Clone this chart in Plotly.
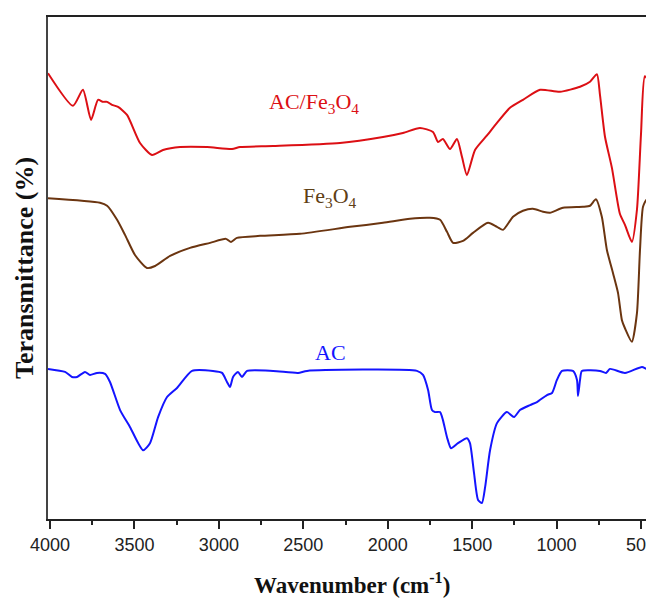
import plotly.graph_objects as go

# Wavenumber (cm-1) and transmittance (arbitrary %, offset spectra)
ac_fe3o4_wn = [4012, 3864, 3805, 3757, 3716, 3686, 3662, 3633, 3597, 3544, 3467, 3396, 3331, 3230,
               3070, 2922, 2875, 2679, 2283, 2028, 1910, 1809, 1732, 1702, 1673, 1631, 1590, 1560,
               1531, 1483, 1412, 1353, 1276, 1199, 1098, 980, 861, 802, 761, 743, 713, 672, 625,
               595, 554, 524, 500, 477, 447, 423]
ac_fe3o4_t = [88.8, 82.3, 85.5, 79.5, 83.5, 83.1, 83.1, 82.5, 82.1, 80.5, 74.9, 72.5, 73.5, 74.1,
              74.1, 73.7, 74.1, 74.3, 74.9, 76.1, 76.9, 77.9, 77.1, 75.1, 75.7, 73.7, 75.7, 72.1,
              68.5, 73.5, 76.4, 78.9, 81.9, 83.5, 85.5, 85.1, 86.1, 87.1, 88.6, 84.5, 76.1, 69.9, 60.8,
              58.6, 55.2, 61.6, 76.7, 88.2, 87.1, 87.1]

fe3o4_wn = [4012, 3704, 3662, 3603, 3556, 3497, 3426, 3378, 3289, 3171, 3052, 2958, 2928, 2893,
            2756, 2520, 2223, 2028, 1868, 1750, 1690, 1649, 1613, 1554, 1495, 1406, 1353, 1317,
            1258, 1199, 1140, 1080, 1039, 962, 844, 802, 767, 732, 702, 666, 636, 613, 595, 554,
            524, 506, 488, 465, 435, 423]
fe3o4_t = [63.9, 63.0, 62.4, 59.6, 56.6, 52.6, 50.0, 50.4, 52.4, 54.0, 55.0, 55.8, 55.2, 56.0,
           56.4, 56.8, 58.2, 59.0, 59.8, 60.0, 59.6, 57.2, 55.0, 55.4, 57.0, 59.0, 58.2, 57.6,
           60.2, 61.4, 61.8, 61.2, 61.0, 62.0, 62.2, 62.4, 63.7, 60.2, 53.6, 49.0, 45.0, 39.6, 38.0, 35.3,
           41.0, 53.6, 62.2, 63.7, 61.6, 62.0]

ac_wn = [4012, 3911, 3870, 3840, 3793, 3763, 3722, 3674, 3645, 3585, 3526, 3449, 3408, 3360, 3307,
         3248, 3159, 3035, 2981, 2952, 2934, 2916, 2887, 2863, 2833, 2679, 2531, 2478, 1827, 1791,
         1761, 1738, 1720, 1690, 1673, 1649, 1625, 1584, 1531, 1513, 1489, 1465, 1442, 1423, 1394,
         1353, 1294, 1252, 1217, 1157, 1116, 1057, 1027, 998, 968, 903, 879, 873, 861, 850, 743,
         707, 684, 595, 494, 465, 435, 423]
ac_t = [29.9, 29.3, 28.3, 28.3, 29.3, 28.7, 29.1, 28.9, 27.3, 21.7, 18.3, 13.7, 15.1, 20.3, 24.3,
        26.1, 29.5, 29.5, 29.1, 27.3, 26.3, 28.3, 29.3, 28.3, 29.5, 29.5, 29.1, 29.5, 29.5, 28.7,
        25.7, 21.7, 21.3, 21.3, 19.7, 16.3, 14.1, 15.1, 16.1, 15.1, 9.2, 3.8, 3.2, 6.4, 13.7,
        19.1, 21.3, 20.3, 21.7, 22.7, 23.3, 24.7, 25.1, 27.7, 29.5, 29.5, 27.7, 24.5, 27.7, 29.5, 29.5,
        29.1, 29.9, 29.1, 30.3, 29.9, 30.1, 30.1]

x_ticks = [4000, 3500, 3000, 2500, 2000, 1500, 1000, 500]
x_minor = [3750, 3250, 2750, 2250, 1750, 1250, 750]

labels = ["AC/Fe<sub>3</sub>O<sub>4</sub>", "Fe<sub>3</sub>O<sub>4</sub>", "AC"]
label_pos = [(2437, 82.9), (2342, 64.1), (2340, 33.1)]
colors = ["#dc0f14", "#6b3510", "#1414ff"]
label_colors = ["#dc0f14", "#5e4015", "#1414ff"]

fig = go.Figure()
for wn, t, c in [(ac_fe3o4_wn, ac_fe3o4_t, colors[0]), (fe3o4_wn, fe3o4_t, colors[1]), (ac_wn, ac_t, colors[2])]:
    fig.add_trace(go.Scatter(x=wn, y=t, mode="lines",
                             line=dict(color=c, width=2, shape="spline", smoothing=0.6),
                             showlegend=False, hoverinfo="skip", cliponaxis=True))

for text, (x, y), c in zip(labels, label_pos, label_colors):
    fig.add_annotation(x=x, y=y, text=text, showarrow=False,
                       font=dict(family="Liberation Serif", size=22, color=c))

fig.add_annotation(xref="paper", yref="paper", x=0.5017, y=-0.1275, xanchor="center", yanchor="middle",
                   text="<b>Wavenumber (cm<sup>-1</sup>)</b>", showarrow=False,
                   font=dict(family="Liberation Serif", size=23, color="#111"))
fig.add_annotation(xref="paper", yref="paper", x=-0.0396, y=0.5, xanchor="center", yanchor="middle",
                   text="<b>Teransmittance (%)</b>", showarrow=False, textangle=-90,
                   font=dict(family="Liberation Serif", size=26, color="#111"))

# the page body adds an 8px offset, so the figure is sized to fill the rest of the window
fig.update_layout(
    width=646, height=590,
    margin=dict(l=40, r=0, t=9, b=79, autoexpand=False),
    plot_bgcolor="white", paper_bgcolor="white",
    xaxis=dict(range=[4012, 423], tickvals=x_ticks, ticktext=[str(v) for v in x_ticks],
               ticks="outside", ticklen=8, tickwidth=1.5, tickcolor="#222",
               minor=dict(tickvals=x_minor, ticks="outside",
                          ticklen=4, tickwidth=1.5, tickcolor="#222"),
               showline=True, linewidth=2, linecolor="#222", mirror=True,
               showgrid=False, zeroline=False, automargin=False, ticklabeloverflow="allow",
               tickfont=dict(family="Liberation Sans", size=18, color="#222")),
    yaxis=dict(range=[0, 100], showticklabels=False, ticks="",
               showline=True, linewidth=2, linecolor="#444", mirror=False,
               showgrid=False, zeroline=False, automargin=False),
)

fig.write_html("out.html")
